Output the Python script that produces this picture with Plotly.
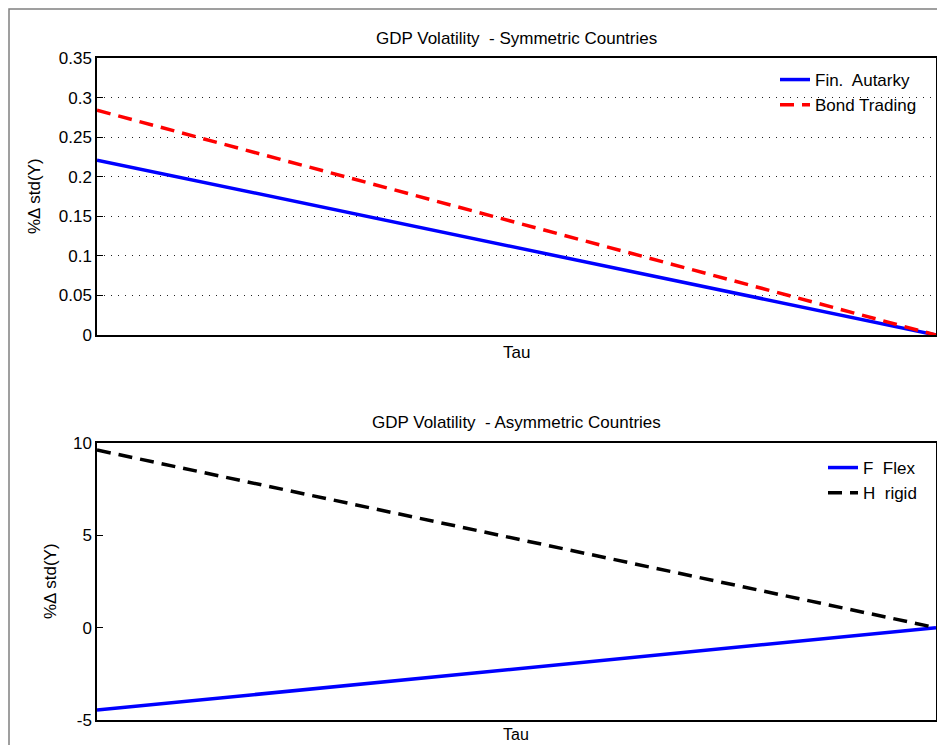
import plotly.graph_objects as go

# Data
tau = [0.0, 1.0]
sym_fin_autarky = [0.221, 0.0]
sym_bond_trading = [0.284, 0.0]
asym_f_flex = [-4.46, 0.0]
asym_h_rigid = [9.62, 0.0]

top_ticks = [0, 0.05, 0.1, 0.15, 0.2, 0.25, 0.3, 0.35]
top_ticklabels = ["0", "0.05", "0.1", "0.15", "0.2", "0.25", "0.3", "0.35"]
bot_ticks = [-5, 0, 5, 10]
bot_ticklabels = ["-5", "0", "5", "10"]

OFF = 8  # default page body margin
W, H = 945 - 2 * OFF, 753 - 2 * OFF
FONT = "Liberation Sans, Arial, sans-serif"

def px_x(p):
    return (p - OFF) / W

def px_y(p):
    return 1 - (p - OFF) / H

DASH = "14px,8px"

fig = go.Figure()
fig.add_trace(go.Scatter(x=tau, y=sym_fin_autarky, mode="lines", name="Fin.  Autarky",
                         line=dict(color="#0000ff", width=3.5), xaxis="x", yaxis="y", legend="legend"))
fig.add_trace(go.Scatter(x=tau, y=sym_bond_trading, mode="lines", name="Bond Trading",
                         line=dict(color="#ff0000", width=3.5, dash=DASH), xaxis="x", yaxis="y", legend="legend"))
fig.add_trace(go.Scatter(x=tau, y=asym_f_flex, mode="lines", name="F  Flex",
                         line=dict(color="#0000ff", width=3.5), xaxis="x2", yaxis="y2", legend="legend2"))
fig.add_trace(go.Scatter(x=tau, y=asym_h_rigid, mode="lines", name="H  rigid",
                         line=dict(color="#000000", width=3.5, dash=DASH), xaxis="x2", yaxis="y2", legend="legend2"))

xdom = [px_x(97), px_x(936)]
axis_common = dict(showline=True, linecolor="black", linewidth=1.5, mirror=True, zeroline=False,
                   tickfont=dict(family=FONT, size=17, color="black"))

fig.update_layout(
    width=W, height=H,
    margin=dict(l=0, r=0, t=0, b=0, autoexpand=False),
    paper_bgcolor="white", plot_bgcolor="white",
    font=dict(family=FONT, size=17, color="black"),
    xaxis=dict(domain=xdom, range=[0, 1], showticklabels=False, ticks="", showgrid=False,
               anchor="y", **axis_common),
    yaxis=dict(domain=[px_y(335), px_y(58)], range=[0, 0.35], tickvals=top_ticks, ticktext=top_ticklabels,
               ticks="inside", ticklen=6, tickcolor="black", showgrid=True, gridcolor="#222222",
               griddash="1px,6px", gridwidth=1, anchor="x", **axis_common),
    xaxis2=dict(domain=xdom, range=[0, 1], showticklabels=False, ticks="", showgrid=False,
                anchor="y2", **axis_common),
    yaxis2=dict(domain=[px_y(720), px_y(443)], range=[-5, 10], tickvals=bot_ticks, ticktext=bot_ticklabels,
                ticks="inside", ticklen=6, tickcolor="black", showgrid=False, anchor="x2", **axis_common),
    legend=dict(x=px_x(922), y=px_y(62), xanchor="right", yanchor="top", bgcolor="rgba(0,0,0,0)",
                borderwidth=0, font=dict(family=FONT, size=17, color="black")),
    legend2=dict(x=px_x(922), y=px_y(450), xanchor="right", yanchor="top", bgcolor="rgba(0,0,0,0)",
                 borderwidth=0, font=dict(family=FONT, size=17, color="black")),
    showlegend=True,
)

ann = dict(xref="paper", yref="paper", showarrow=False, xanchor="center", yanchor="middle",
           font=dict(family=FONT, size=17, color="black"))
fig.add_annotation(text="GDP Volatility  - Symmetric Countries", x=px_x(516), y=px_y(38), **ann)
fig.add_annotation(text="Tau", x=px_x(516), y=px_y(352), **ann)
fig.add_annotation(text="GDP Volatility  - Asymmetric Countries", x=px_x(516), y=px_y(422), **ann)
fig.add_annotation(text="Tau", x=px_x(516), y=px_y(734.5), xref="paper", yref="paper", showarrow=False,
                   xanchor="center", yanchor="middle", font=dict(family=FONT, size=16, color="black"))
fig.add_annotation(text="%\u0394 std(Y)", x=px_x(35), y=px_y(196), textangle=-90, **ann)
fig.add_annotation(text="%\u0394 std(Y)", x=px_x(50), y=px_y(581), textangle=-90, **ann)

# outer grey figure frame
fig.add_shape(type="rect", xref="paper", yref="paper", x0=px_x(9), x1=1.05, y0=-0.05, y1=px_y(9),
              line=dict(color="#808080", width=1.5), fillcolor="rgba(0,0,0,0)", layer="below")

fig.write_html("out.html")
